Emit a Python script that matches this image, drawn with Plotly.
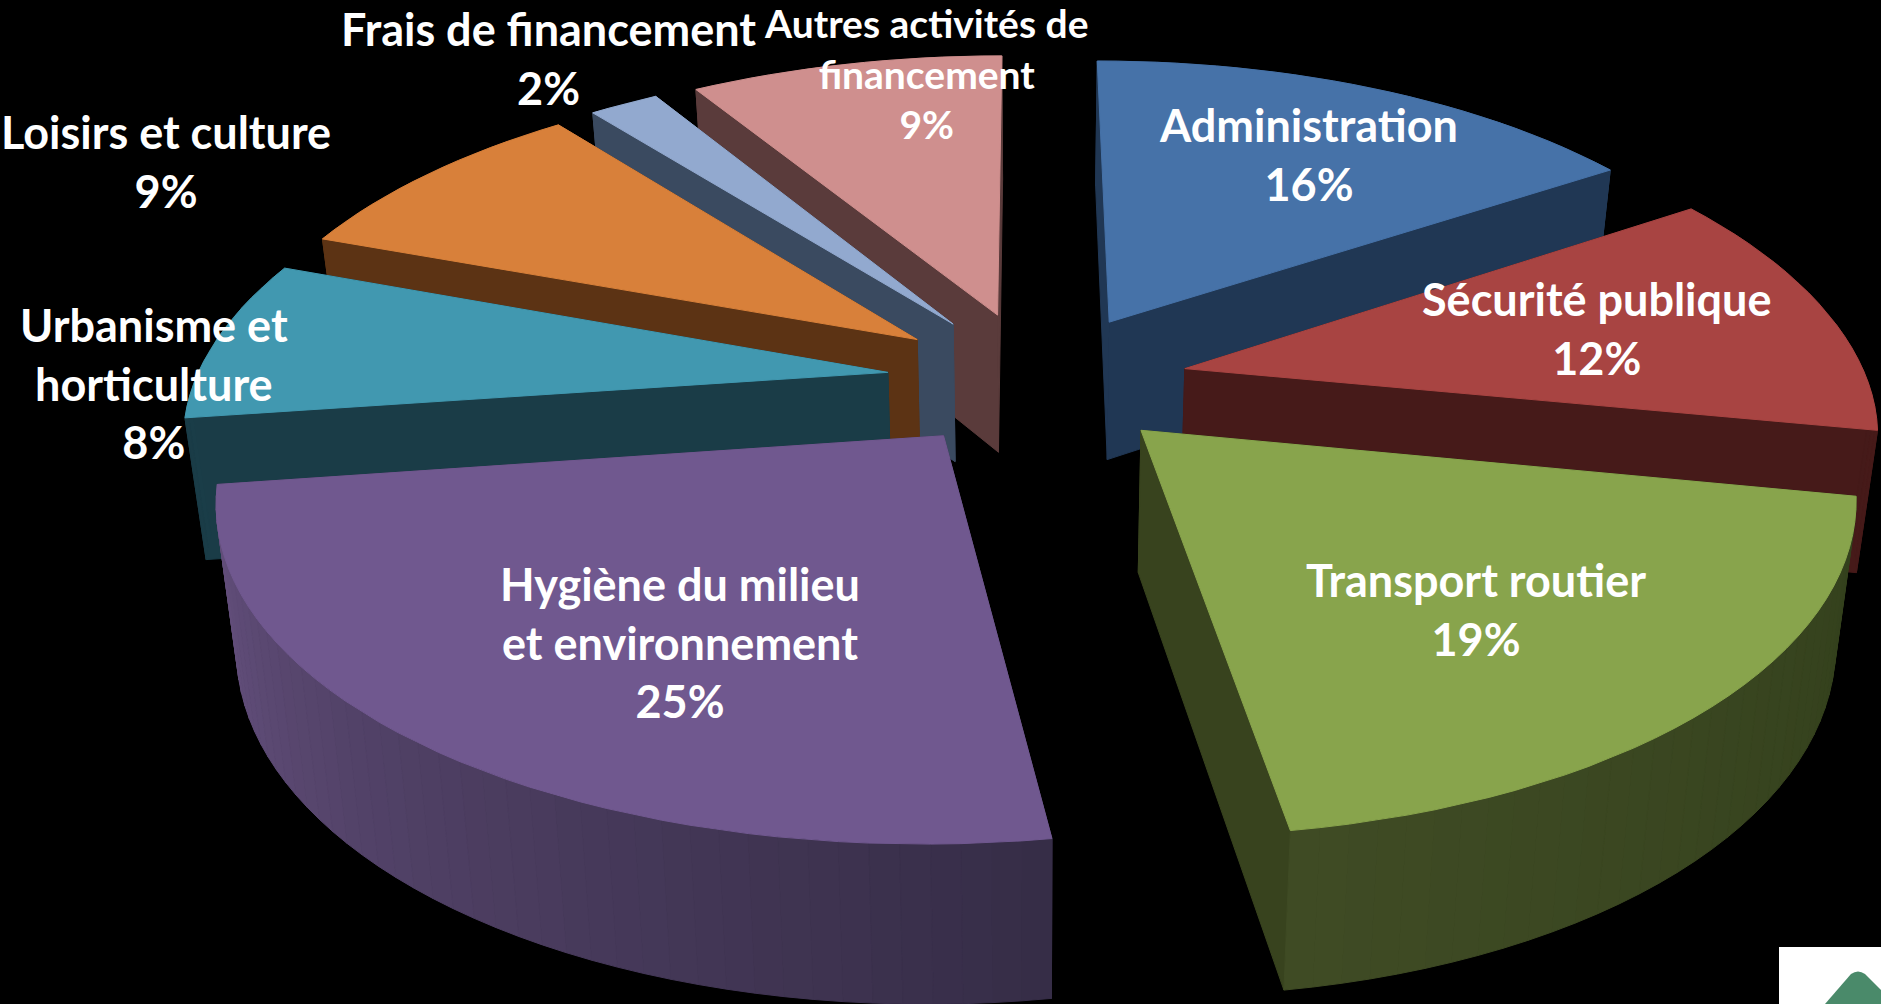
import math
import plotly.graph_objects as go

# ---- data ----
categories = ["Administration", "Sécurité publique", "Transport routier",
              "Hygiène du milieu<br>et environnement", "Urbanisme et<br>horticulture",
              "Loisirs et culture", "Frais de financement",
              "Autres activités de<br>financement"]
values = [16, 12, 19, 25, 8, 9, 2, 9]

top_colors = ["#4672A8", "#A84442", "#88A44C", "#70588F", "#4198B0", "#D8803A", "#92A9CF", "#CF8F8E"]
cut_colors = ["#203754", "#461A19", "#38431E", "#4A3A60", "#1A3C47", "#5C3314", "#3A4A60", "#5A3B3B"]
rim_start = ["#203754", "#3E1717", "#33401C", "#362D47", "#1A3C47", "#5C3314", "#3A4A60", "#5A3B3B"]
rim_end = ["#2A4668", "#461A19", "#3F4B24", "#66517F", "#1E4A58", "#5C3314", "#3A4A60", "#5A3B3B"]
label_pos = [(1308, 154), (1597, 328), (1476, 609), (680, 642), (154, 383), (166, 161), (548, 58), (926, 73)]
label_size = [45, 45, 45, 45, 45, 45, 45, 39]
draw_order = [7, 6, 5, 4, 3, 0, 1, 2]

# ---- projection of the tilted, exploded pie ----
CX, CY, A, B = 1032, 379, 692, 325
PERSP, PULL, ROT = 0.175, 0.21, 2.0
DEPTH, BOTTOM_SHRINK = 140, 0.975
FRONT_SQUASH, RIGHT_PULL, RIGHT_RADIUS, LEFT_RADIUS = 0.975, 1.07, 0.985, 1.0


def project(X, Y, bottom=False):
    w = 1 + PERSP * Y
    sx = A * X / w
    sy = CY - B * Y / w
    if bottom:
        sx *= BOTTOM_SHRINK
        sy += DEPTH / w ** 0.6
    return CX + sx, sy


def rim_point(ox, oy, angle):
    # small angular warp from the chart's perspective, in degrees
    warped = angle + math.radians(1.2 - 1.8 * math.cos(angle - math.radians(45)))
    dx, dy = math.sin(warped), math.cos(warped)
    dx *= RIGHT_RADIUS if dx > 0 else LEFT_RADIUS
    if dy < 0:
        dy *= FRONT_SQUASH
    return ox + dx, oy + dy


def mix(c1, c2, t):
    a = [int(c1[i:i + 2], 16) for i in (1, 3, 5)]
    b = [int(c2[i:i + 2], 16) for i in (1, 3, 5)]
    return "#%02x%02x%02x" % tuple(round(a[i] + (b[i] - a[i]) * t) for i in range(3))


def poly(fig, pts, color):
    xs = [p[0] for p in pts] + [pts[0][0]]
    ys = [p[1] for p in pts] + [pts[0][1]]
    fig.add_trace(go.Scatter(x=xs, y=ys, mode="lines", fill="toself", fillcolor=color,
                             line=dict(color=color, width=1), hoverinfo="skip", showlegend=False))


fig = go.Figure()
total = sum(values)
cum = [sum(values[:i]) for i in range(len(values))]

for i in draw_order:
    t0 = math.radians(cum[i] / total * 360)
    t1 = math.radians((cum[i] + values[i]) / total * 360)
    mid = (t0 + t1) / 2 + math.radians(ROT)
    ox, oy = PULL * math.sin(mid), PULL * math.cos(mid)
    if ox > 0:
        ox *= RIGHT_PULL
    n = max(4, int(math.degrees(t1 - t0) / 2))
    rim = [rim_point(ox, oy, t0 + (t1 - t0) * k / n) for k in range(n + 1)]
    walls = []
    walls.append((oy + rim[0][1], [(ox, oy), rim[0]], cut_colors[i]))
    walls.append((oy + rim[-1][1], [(ox, oy), rim[-1]], cut_colors[i]))
    for k in range(n):
        walls.append(((rim[k][1] + rim[k + 1][1]), [rim[k], rim[k + 1]],
                      mix(rim_start[i], rim_end[i], k / max(n - 1, 1))))
    walls.sort(key=lambda w: -w[0])
    for _, (p, q), col in walls:
        poly(fig, [project(*p), project(*q), project(*q, bottom=True), project(*p, bottom=True)], col)
    poly(fig, [project(ox, oy)] + [project(*r) for r in rim], top_colors[i])

for i, name in enumerate(categories):
    fig.add_annotation(x=label_pos[i][0], y=label_pos[i][1], text=f"{name}<br>{values[i]}%",
                       showarrow=False, xanchor="center", yanchor="middle", align="center",
                       font=dict(family="Lato", size=label_size[i], color="white", weight="bold"))

fig.update_layout(
    width=1881, height=1004, margin=dict(l=0, r=0, t=0, b=0),
    paper_bgcolor="black", plot_bgcolor="black", showlegend=False,
    xaxis=dict(range=[0, 1881], visible=False, fixedrange=True),
    yaxis=dict(range=[1004, 0], visible=False, fixedrange=True),
    shapes=[
        dict(type="rect", x0=1779, x1=1881, y0=947, y1=1004, fillcolor="white", line_width=0, layer="above"),
        dict(type="path", path="M1825,1004 L1851,974 Q1858,969 1865,974 L1881,990 L1881,1004 Z",
             fillcolor="#4A8A6A", line_width=0, layer="above"),
    ],
)
fig.write_html("out.html", config={"displayModeBar": False},
               post_script="document.body.style.margin='0';document.body.style.background='black';")
